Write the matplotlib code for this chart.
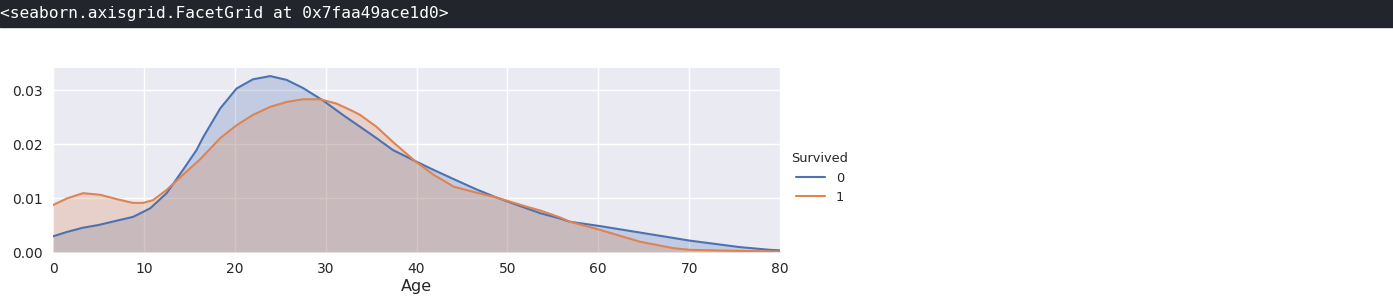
import matplotlib
matplotlib.use("Agg")
import matplotlib.pyplot as plt
import seaborn as sns

# density curves, one age list per group
ages_0 = [0, 1.5, 3.3, 5, 7, 8.8, 10.7, 12.5, 14.3, 15.8, 16.5, 18.4, 20.2, 22.0, 23.9,
          25.7, 27.5, 29.7, 31.9, 33.8, 35.6, 37.4, 39.8, 41.9, 44.1, 46.6, 48.8, 52.1,
          53.6, 55.8, 56.9, 60.2, 64.6, 70.1, 75.6, 78.9, 80]
dens_0 = [0.0029, 0.0037, 0.0045, 0.0050, 0.0058, 0.0065, 0.0081, 0.0109, 0.0152, 0.0189,
          0.0212, 0.0266, 0.0303, 0.0320, 0.0326, 0.0319, 0.0304, 0.0281, 0.0254, 0.0232,
          0.0211, 0.0189, 0.0169, 0.0152, 0.0135, 0.0116, 0.0101, 0.0081, 0.0072, 0.0062,
          0.0056, 0.0048, 0.0036, 0.0021, 0.0009, 0.0004, 0.0003]
ages_1 = [0, 1.5, 3.3, 5.2, 7.0, 8.8, 9.9, 11.0, 12.5, 14.3, 16.2, 18.4, 20.2, 22.0, 23.9,
          25.7, 27.5, 29.4, 31.2, 33.0, 33.8, 35.6, 37.4, 39.8, 41.9, 44.1, 46.6, 48.8,
          52.1, 53.6, 55.8, 56.9, 60.2, 64.6, 68.3, 70.1, 75.6, 80]
dens_1 = [0.0087, 0.0099, 0.0109, 0.0106, 0.0098, 0.0091, 0.0091, 0.0096, 0.0115, 0.0143,
          0.0172, 0.0211, 0.0235, 0.0254, 0.0269, 0.0278, 0.0283, 0.0283, 0.0275, 0.0261,
          0.0254, 0.0232, 0.0204, 0.0169, 0.0143, 0.0121, 0.0110, 0.0101, 0.0084, 0.0077,
          0.0064, 0.0056, 0.0041, 0.0019, 0.0007, 0.0004, 0.0002, 0.0001]
groups = ['0', '1']
colors = ['#4c72b0', '#dd8452']

sns.set_style("darkgrid")
plt.rcParams['font.family'] = ['DejaVu Sans']

fig = plt.figure(figsize=(13.93, 2.97), dpi=100)

# notebook output banner
fig.patches.append(plt.Rectangle((0, 1 - 27/297), 1, 27/297, transform=fig.transFigure,
                                 color='#22252b', zorder=0))
fig.text(0.0, 1 - 13.5/297, '<seaborn.axisgrid.FacetGrid at 0x7faa49ace1d0>',
         family='DejaVu Sans Mono', fontsize=11.7, color='white', va='center', ha='left')

ax = fig.add_axes([53/1393, 1 - 252/297, 727/1393, 184/297])
ax.set_facecolor('#eaeaf2')
for x, y, c, g in zip([ages_0, ages_1], [dens_0, dens_1], colors, groups):
    ax.fill_between(x, y, color=c, alpha=0.25, lw=0)
    ax.plot(x, y, color=c, lw=1.5, label=g)

ax.set_xlim(0, 80)
ax.set_ylim(0, 0.0341)
ax.set_yticks([0, 0.01, 0.02, 0.03])
ax.set_yticklabels(['0.00', '0.01', '0.02', '0.03'])
ax.tick_params(labelsize=10, colors='#262626', pad=4)
ax.set_xlabel('Age', fontsize=11.5, color='#262626', labelpad=2)
for s in ax.spines.values():
    s.set_visible(False)
ax.grid(True, color='white', lw=1)

leg = fig.legend(title='Survived', loc='center left', bbox_to_anchor=(780/1393, 1 - 178/297),
                 frameon=False, fontsize=9.3, title_fontsize=9.3, handlelength=2.25)
for t in leg.get_texts():
    t.set_color('#262626')
leg.get_title().set_color('#262626')

fig.savefig('out.png', dpi=100, facecolor='white')
